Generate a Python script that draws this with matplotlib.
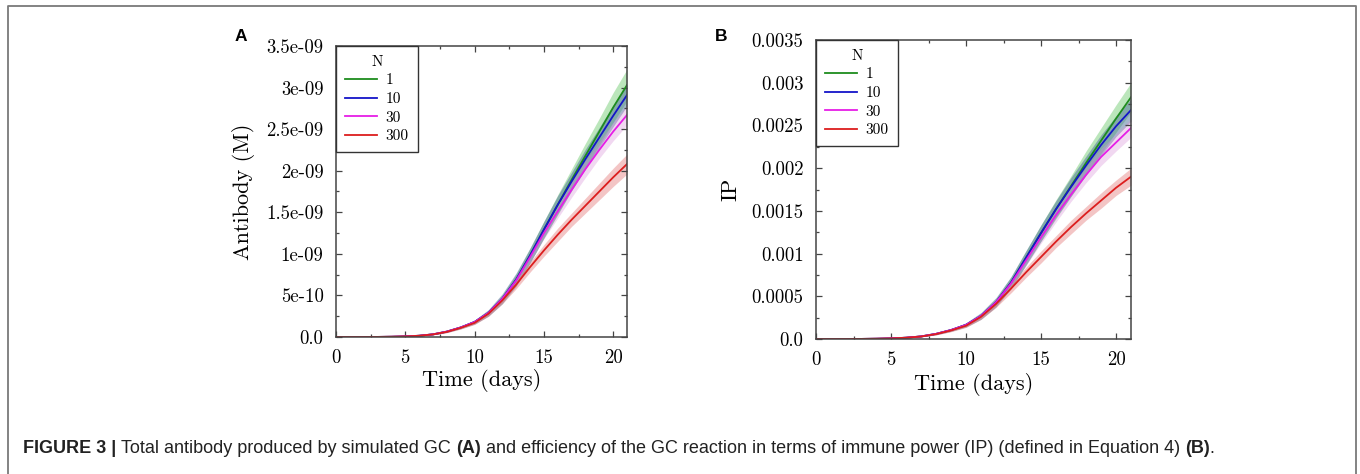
import matplotlib
matplotlib.use("Agg")
import matplotlib.pyplot as plt
from matplotlib.lines import Line2D
from matplotlib.ticker import MultipleLocator

# Data
days = list(range(22))
n_labels = ["1", "10", "30", "300"]
line_colors = ["#1e8c1e", "#1414c8", "#e61ee6", "#dc1e1e"]
band_colors = ["#8fd68f", "#4a7098", "#d890d8", "#e68080"]
band_alphas = [0.6, 0.5, 0.35, 0.45]

# panel A: antibody (units of 1e-9 M)
ab_n1 = [0, 0, 0, 0.001, 0.003, 0.007, 0.015, 0.032, 0.065, 0.115, 0.18, 0.29,
         0.46, 0.69, 0.98, 1.29, 1.59, 1.89, 2.18, 2.47, 2.76, 3.03]
ab_n10 = [0, 0, 0, 0.001, 0.003, 0.007, 0.015, 0.032, 0.065, 0.115, 0.18, 0.29,
          0.46, 0.69, 0.98, 1.29, 1.59, 1.87, 2.14, 2.40, 2.66, 2.91]
ab_n30 = [0, 0, 0, 0.001, 0.003, 0.007, 0.015, 0.032, 0.065, 0.115, 0.18, 0.29,
          0.46, 0.68, 0.96, 1.25, 1.51, 1.77, 2.02, 2.25, 2.47, 2.67]
ab_n300 = [0, 0, 0, 0.001, 0.003, 0.007, 0.015, 0.031, 0.062, 0.11, 0.17, 0.28,
           0.44, 0.63, 0.84, 1.04, 1.23, 1.41, 1.58, 1.75, 1.92, 2.08]
ab_sd_n1 = [0, 0, 0, 0, 0, 0, 0, 0.005, 0.01, 0.015, 0.02, 0.03, 0.045, 0.065, 0.085,
            0.10, 0.12, 0.13, 0.15, 0.16, 0.18, 0.19]
ab_sd_n10 = [0, 0, 0, 0, 0, 0, 0, 0.005, 0.01, 0.015, 0.025, 0.04, 0.06, 0.08, 0.09,
             0.10, 0.11, 0.11, 0.12, 0.12, 0.13, 0.13]
ab_sd_n30 = [0, 0, 0, 0, 0, 0, 0, 0.005, 0.01, 0.015, 0.02, 0.03, 0.04, 0.05, 0.06,
             0.07, 0.08, 0.09, 0.10, 0.10, 0.11, 0.12]
ab_sd_n300 = [0, 0, 0, 0, 0, 0, 0, 0.005, 0.01, 0.015, 0.02, 0.03, 0.04, 0.05, 0.06,
              0.07, 0.08, 0.08, 0.09, 0.10, 0.11, 0.12]

# panel B: immune power (units of 1e-3)
ip_n1 = [0, 0, 0, 0.001, 0.003, 0.007, 0.015, 0.03, 0.06, 0.105, 0.165, 0.27,
         0.43, 0.66, 0.95, 1.24, 1.52, 1.79, 2.06, 2.32, 2.58, 2.83]
ip_n10 = [0, 0, 0, 0.001, 0.003, 0.007, 0.015, 0.03, 0.06, 0.105, 0.165, 0.27,
          0.43, 0.66, 0.95, 1.24, 1.52, 1.78, 2.03, 2.27, 2.49, 2.68]
ip_n30 = [0, 0, 0, 0.001, 0.003, 0.007, 0.015, 0.03, 0.06, 0.105, 0.165, 0.27,
          0.43, 0.65, 0.92, 1.19, 1.45, 1.69, 1.92, 2.13, 2.30, 2.47]
ip_n300 = [0, 0, 0, 0.001, 0.003, 0.007, 0.015, 0.029, 0.057, 0.10, 0.155, 0.26,
           0.41, 0.59, 0.78, 0.96, 1.14, 1.31, 1.47, 1.62, 1.77, 1.90]
ip_sd_n1 = [0, 0, 0, 0, 0, 0, 0, 0.005, 0.01, 0.015, 0.02, 0.03, 0.045, 0.065, 0.08,
            0.095, 0.11, 0.12, 0.14, 0.15, 0.16, 0.17]
ip_sd_n10 = [0, 0, 0, 0, 0, 0, 0, 0.005, 0.01, 0.015, 0.025, 0.04, 0.055, 0.07, 0.085,
             0.095, 0.10, 0.11, 0.11, 0.12, 0.12, 0.13]
ip_sd_n30 = [0, 0, 0, 0, 0, 0, 0, 0.005, 0.01, 0.015, 0.02, 0.03, 0.04, 0.05, 0.06,
             0.07, 0.08, 0.08, 0.09, 0.10, 0.10, 0.11]
ip_sd_n300 = [0, 0, 0, 0, 0, 0, 0, 0.005, 0.01, 0.015, 0.02, 0.03, 0.04, 0.05, 0.06,
              0.07, 0.07, 0.08, 0.08, 0.09, 0.09, 0.10]

ab_ticks = [0, 0.5, 1.0, 1.5, 2.0, 2.5, 3.0, 3.5]
ab_ticklabels = ["0.0", "5e-10", "1e-09", "1.5e-09", "2e-09", "2.5e-09", "3e-09", "3.5e-09"]
ip_ticks = [0, 0.5, 1.0, 1.5, 2.0, 2.5, 3.0, 3.5]
ip_ticklabels = ["0.0", "0.0005", "0.001", "0.0015", "0.002", "0.0025", "0.003", "0.0035"]
x_ticks = [0, 5, 10, 15, 20]

caption_parts = [
    ("FIGURE 3 |", "bold"),
    ("Total antibody produced by simulated GC", "normal"),
    ("(A)", "bold"),
    ("and efficiency of the GC reaction in terms of immune power (IP) (defined in Equation 4)", "normal"),
    ("(B)", "bold"),
]

plt.rcParams["font.family"] = "cmr10"
plt.rcParams["axes.unicode_minus"] = False
plt.rcParams["mathtext.fontset"] = "cm"

fig = plt.figure(figsize=(13.6, 4.74), dpi=100)
W, H = 1360, 474


def draw_panel(ax, means, sds, ticks, ticklabels, ylabel):
    for m, s, c, a in zip(means, sds, band_colors, band_alphas):
        lo = [mi - si for mi, si in zip(m, s)]
        hi = [mi + si for mi, si in zip(m, s)]
        ax.fill_between(days, lo, hi, color=c, alpha=a, lw=0)
    for m, c, lab in zip(means, line_colors, n_labels):
        ax.plot(days, m, color=c, lw=1.3, label=lab)
    ax.set_xlim(0, 21)
    ax.set_ylim(0, 3.5)
    ax.set_xticks(x_ticks)
    ax.set_xticklabels([str(t) for t in x_ticks])
    ax.set_yticks(ticks)
    ax.set_yticklabels(ticklabels)
    ax.xaxis.set_minor_locator(MultipleLocator(2.5))
    ax.yaxis.set_minor_locator(MultipleLocator(0.25))
    ax.tick_params(which="both", direction="in", top=True, right=True,
                   labelsize=13.5, pad=9, color="#444444", width=0.9)
    ax.tick_params(which="major", length=4)
    ax.tick_params(which="minor", length=2.5)
    for sp in ax.spines.values():
        sp.set_color("#444444")
        sp.set_linewidth(1.1)
    ax.set_xlabel("Time (days)", fontsize=16)
    ax.set_ylabel(ylabel, fontsize=16)
    leg = ax.legend(title="N", loc="upper left", fontsize=11, title_fontsize=11,
                    borderaxespad=0, fancybox=False, framealpha=1,
                    edgecolor="#333333", handlelength=2.1, labelspacing=0.32,
                    handletextpad=0.55, borderpad=0.6)
    leg.get_frame().set_linewidth(1.0)


ax_a = fig.add_axes([336 / W, 1 - 337 / H, 291 / W, 291 / H])
draw_panel(ax_a, [ab_n1, ab_n10, ab_n30, ab_n300],
           [ab_sd_n1, ab_sd_n10, ab_sd_n30, ab_sd_n300],
           ab_ticks, ab_ticklabels, "Antibody (M)")
ax_a.yaxis.set_label_coords(-0.28, 0.5)
ax_a.xaxis.set_label_coords(0.5, -0.11)

ax_b = fig.add_axes([816 / W, 1 - 339 / H, 315 / W, 299 / H])
draw_panel(ax_b, [ip_n1, ip_n10, ip_n30, ip_n300],
           [ip_sd_n1, ip_sd_n10, ip_sd_n30, ip_sd_n300],
           ip_ticks, ip_ticklabels, "IP")
ax_b.yaxis.set_label_coords(-0.24, 0.5)
ax_b.xaxis.set_label_coords(0.5, -0.115)

# panel letters
fig.text(235 / W, 1 - 29 / H, "A", fontsize=12.5, fontweight="bold",
         family="Liberation Sans", va="top", ha="left")
fig.text(715 / W, 1 - 29 / H, "B", fontsize=12.5, fontweight="bold",
         family="Liberation Sans", va="top", ha="left")

# outer frame (left, top, right)
frame = Line2D([8 / W, 8 / W, 1356 / W, 1356 / W], [0, 1 - 6 / H, 1 - 6 / H, 0],
               transform=fig.transFigure, color="#7a7a7a", lw=1.3)
fig.add_artist(frame)

# caption built piece by piece so the bold parts line up
renderer = fig.canvas.get_renderer()


def caption_width(size):
    probe = fig.text(0, 0, "a a", fontsize=size, family="Liberation Sans")
    gap = probe.get_window_extent(renderer).width
    probe.set_text("aa")
    gap -= probe.get_window_extent(renderer).width
    total = 0
    for txt, weight in caption_parts + [(".", "normal")]:
        probe.set_text(txt)
        probe.set_fontweight(weight)
        total += probe.get_window_extent(renderer).width
    probe.remove()
    return total + gap * (len(caption_parts) - 1), gap


cap_left, cap_right = 23, 1210
w0, _ = caption_width(11)
cap_size = 11 * (cap_right - cap_left) / w0
_, w_gap = caption_width(cap_size)

x_px = cap_left
for i, (txt, weight) in enumerate(caption_parts):
    t = fig.text(x_px / W, 1 - 453 / H, txt, fontsize=cap_size, fontweight=weight,
                 family="Liberation Sans", va="baseline", ha="left", color="#222222")
    x_px += t.get_window_extent(renderer).width
    if i < len(caption_parts) - 1:
        x_px += w_gap
fig.text(x_px / W, 1 - 453 / H, ".", fontsize=cap_size,
         family="Liberation Sans", va="baseline", ha="left", color="#222222")

fig.savefig("out.png", dpi=100)
